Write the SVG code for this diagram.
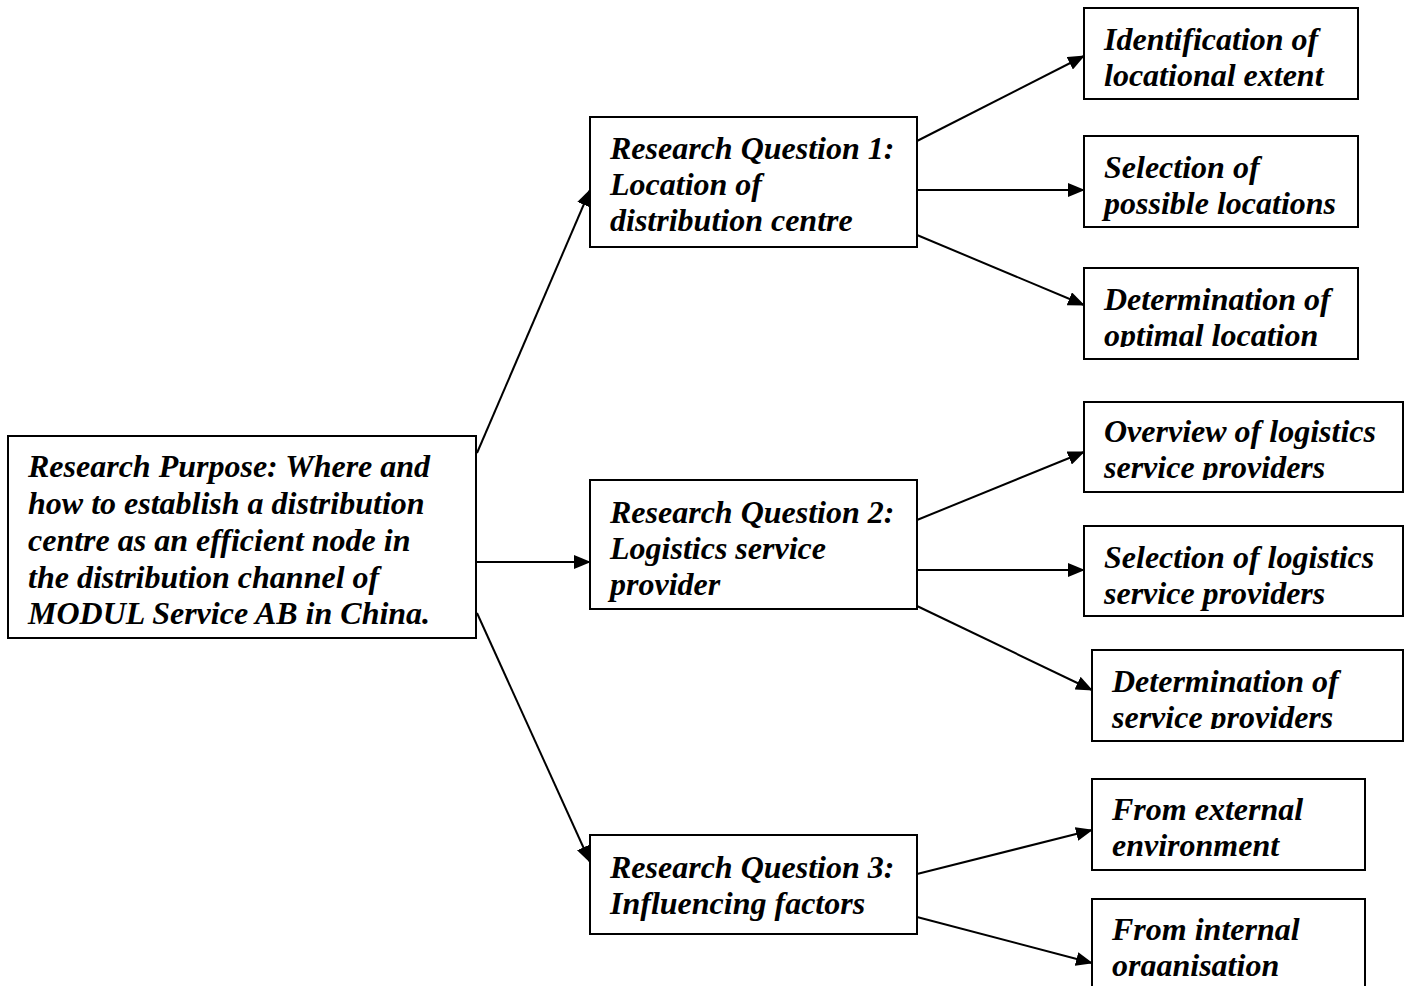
<svg xmlns="http://www.w3.org/2000/svg" width="1407" height="986" viewBox="0 0 1407 986">
  <style>
    .box { fill: #ffffff; stroke: #000000; stroke-width: 2; }
    .lbl { font-family: "Liberation Serif", "Times New Roman", serif; font-size: 32px; font-weight: bold; font-style: italic; fill: #000000; }
    .edge { stroke: #000000; stroke-width: 2; fill: none; marker-end: url(#arrow); }
  </style>
  <defs>
    <marker id="arrow" markerUnits="userSpaceOnUse" markerWidth="17" markerHeight="14" refX="16" refY="7" orient="auto">
      <path d="M0,0 L17,7 L0,14 Z" fill="#000000"/>
    </marker>
    <clipPath id="clip-b3"><rect x="1084" y="268" width="274" height="79"/></clipPath>
    <clipPath id="clip-b4"><rect x="1084" y="402" width="319" height="78"/></clipPath>
    <clipPath id="clip-b6"><rect x="1092" y="650" width="311" height="79"/></clipPath>
    <clipPath id="clip-b8"><rect x="1092" y="899" width="273" height="77"/></clipPath>
  </defs>
  <rect width="1407" height="986" fill="#ffffff"/>

  <g id="connectors">
    <line class="edge" x1="477" y1="453" x2="590" y2="190"/>
    <line class="edge" x1="477" y1="562" x2="590" y2="562"/>
    <line class="edge" x1="477" y1="613" x2="590" y2="862"/>
    <line class="edge" x1="917" y1="141" x2="1084" y2="56"/>
    <line class="edge" x1="917" y1="190" x2="1084" y2="190"/>
    <line class="edge" x1="917" y1="235" x2="1084" y2="305"/>
    <line class="edge" x1="917" y1="520" x2="1084" y2="452"/>
    <line class="edge" x1="917" y1="570" x2="1084" y2="570"/>
    <line class="edge" x1="917" y1="606" x2="1092" y2="690"/>
    <line class="edge" x1="917" y1="874" x2="1092" y2="830"/>
    <line class="edge" x1="917" y1="917" x2="1092" y2="963"/>
  </g>

  <g id="purpose">
    <rect class="box" x="8" y="436" width="468" height="202"/>
    <text class="lbl" x="28" y="477">Research Purpose: Where and</text>
    <text class="lbl" x="28" y="514">how to establish a distribution</text>
    <text class="lbl" x="28" y="551">centre as an efficient node in</text>
    <text class="lbl" x="28" y="588">the distribution channel of</text>
    <text class="lbl" x="28" y="624">MODUL Service AB in China.</text>
  </g>

  <g id="rq1">
    <rect class="box" x="590" y="117" width="327" height="130"/>
    <text class="lbl" x="610" y="159">Research Question 1:</text>
    <text class="lbl" x="610" y="195">Location of</text>
    <text class="lbl" x="610" y="231">distribution centre</text>
  </g>

  <g id="rq2">
    <rect class="box" x="590" y="480" width="327" height="129"/>
    <text class="lbl" x="610" y="523">Research Question 2:</text>
    <text class="lbl" x="610" y="559">Logistics service</text>
    <text class="lbl" x="610" y="595">provider</text>
  </g>

  <g id="rq3">
    <rect class="box" x="590" y="835" width="327" height="99"/>
    <text class="lbl" x="610" y="878">Research Question 3:</text>
    <text class="lbl" x="610" y="914">Influencing factors</text>
  </g>

  <g id="locational-extent">
    <rect class="box" x="1084" y="8" width="274" height="91"/>
    <text class="lbl" x="1104" y="50">Identification of</text>
    <text class="lbl" x="1104" y="86">locational extent</text>
  </g>

  <g id="possible-locations">
    <rect class="box" x="1084" y="136" width="274" height="91"/>
    <text class="lbl" x="1104" y="178">Selection of</text>
    <text class="lbl" x="1104" y="214">possible locations</text>
  </g>

  <g id="optimal-location">
    <rect class="box" x="1084" y="268" width="274" height="91"/>
    <g clip-path="url(#clip-b3)">
      <text class="lbl" x="1104" y="310">Determination of</text>
      <text class="lbl" x="1104" y="346">optimal location</text>
    </g>
  </g>

  <g id="lsp-overview">
    <rect class="box" x="1084" y="402" width="319" height="90"/>
    <g clip-path="url(#clip-b4)">
      <text class="lbl" x="1104" y="442">Overview of logistics</text>
      <text class="lbl" x="1104" y="478">service providers</text>
    </g>
  </g>

  <g id="lsp-selection">
    <rect class="box" x="1084" y="526" width="319" height="90"/>
    <text class="lbl" x="1104" y="568">Selection of logistics</text>
    <text class="lbl" x="1104" y="604">service providers</text>
  </g>

  <g id="lsp-determination">
    <rect class="box" x="1092" y="650" width="311" height="91"/>
    <g clip-path="url(#clip-b6)">
      <text class="lbl" x="1112" y="692">Determination of</text>
      <text class="lbl" x="1112" y="728">service providers</text>
    </g>
  </g>

  <g id="external">
    <rect class="box" x="1092" y="779" width="273" height="91"/>
    <text class="lbl" x="1112" y="820">From external</text>
    <text class="lbl" x="1112" y="856">environment</text>
  </g>

  <g id="internal">
    <rect class="box" x="1092" y="899" width="273" height="91"/>
    <g clip-path="url(#clip-b8)">
      <text class="lbl" x="1112" y="940">From internal</text>
      <text class="lbl" x="1112" y="976">organisation</text>
    </g>
  </g>
</svg>
